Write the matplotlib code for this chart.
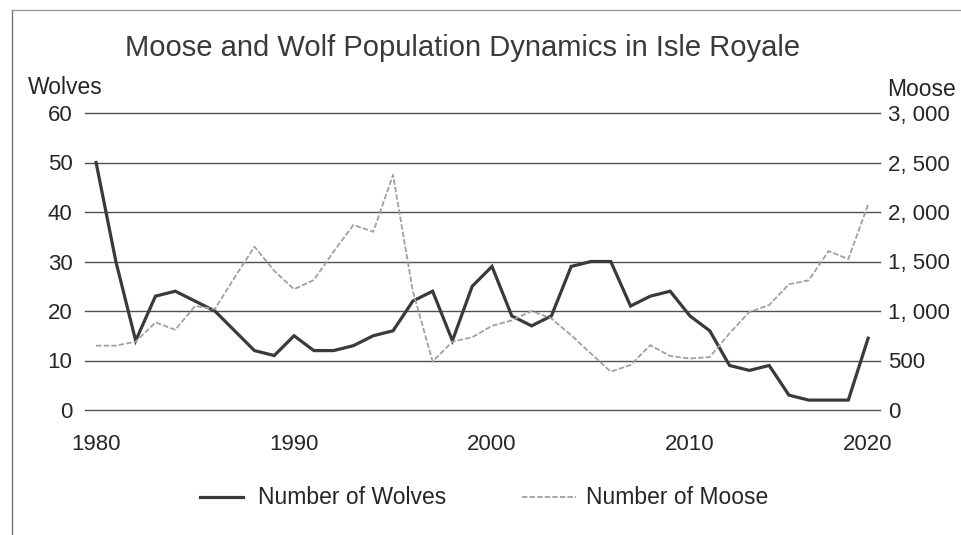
import matplotlib
matplotlib.use("Agg")
import matplotlib.pyplot as plt
import numpy as np
from matplotlib.lines import Line2D

plt.rcParams['font.family'] = ['Liberation Sans', 'DejaVu Sans']

# data
years = list(range(1980, 2020))
wolves = [50, 30, 14, 23, 24, 22, 20, 16, 12, 11,
          15, 12, 12, 13, 15, 16, 22, 24, 14, 25,
          29, 19, 17, 19, 29, 30, 30, 21, 23, 24,
          19, 16, 9, 8, 9, 3, 2, 2, 2, 14.5]
moose = [650, 650, 690, 885, 810, 1050, 1020, 1340, 1650, 1405,
         1220, 1313, 1600, 1870, 1800, 2375, 1200, 490, 690, 735,
         850, 905, 1000, 925, 755, 570, 387, 455, 655, 545,
         520, 535, 775, 990, 1060, 1270, 1310, 1605, 1525, 2075]
xtick_idx = [0, 10, 20, 30, 39]
xtick_labels = ['1980', '1990', '2000', '2010', '2020']
wolf_ticks = [0, 10, 20, 30, 40, 50, 60]
moose_ticks = [0, 500, 1000, 1500, 2000, 2500, 3000]

txt = '#262626'

fig = plt.figure(figsize=(9.62, 5.35), dpi=100)
ax = fig.add_axes([85 / 962, 1 - 410 / 535, 795 / 962, 297 / 535])
ax2 = ax.twinx()

x = np.arange(len(years))
ax.plot(x, wolves, color='#3a3a3a', lw=2.3, solid_joinstyle='miter', zorder=3)
ax2.plot(x, moose, color='#a0a0a0', lw=1.3, ls=(0, (3, 1.2)), zorder=3)

ax.set_xlim(-0.56, 39.6)
ax.set_ylim(0, 60)
ax2.set_ylim(0, 3000)
ax.set_yticks(wolf_ticks)
ax2.set_yticks(moose_ticks)
ax2.set_yticklabels([f'{v:,}'.replace(',', ', ') for v in moose_ticks])
ax.set_xticks(xtick_idx)
ax.set_xticklabels(xtick_labels)

for v in wolf_ticks:
    ax.axhline(v, color='#505050', lw=1.0, zorder=1, clip_on=False)

for a in (ax, ax2):
    for s in a.spines.values():
        s.set_visible(False)
ax.tick_params(axis='y', length=0, pad=9, labelsize=16, colors=txt)
ax2.tick_params(axis='y', length=0, pad=6, labelsize=16, colors=txt)
ax.tick_params(axis='x', length=0, pad=17, labelsize=16, colors=txt)

fig.text(463 / 962, 1 - 48 / 535, 'Moose and Wolf Population Dynamics in Isle Royale',
         ha='center', va='center', fontsize=21, color='#3a3a3a')
fig.text(28 / 962, 1 - 87 / 535, 'Wolves', ha='left', va='center', fontsize=16.5, color=txt)
fig.text(956 / 962, 1 - 89 / 535, 'Moose', ha='right', va='center', fontsize=16.5, color=txt)

# legend
fig.add_artist(Line2D([200 / 962, 243 / 962], [1 - 497 / 535] * 2, color='#3a3a3a', lw=2.3))
fig.text(258 / 962, 1 - 497 / 535, 'Number of Wolves', ha='left', va='center', fontsize=16.5, color=txt)
fig.add_artist(Line2D([522 / 962, 576 / 962], [1 - 497 / 535] * 2, color='#a0a0a0', lw=1.3, ls=(0, (3, 1.2))))
fig.text(586 / 962, 1 - 497 / 535, 'Number of Moose', ha='left', va='center', fontsize=16.5, color=txt)

# outer frame of the scanned box
fig.add_artist(Line2D([12 / 962, 12 / 962], [0, 1 - 10 / 535], color='#777777', lw=1.0))
fig.add_artist(Line2D([12 / 962, 1], [1 - 10 / 535] * 2, color='#999999', lw=1.0))

fig.savefig('out.png', dpi=100)
